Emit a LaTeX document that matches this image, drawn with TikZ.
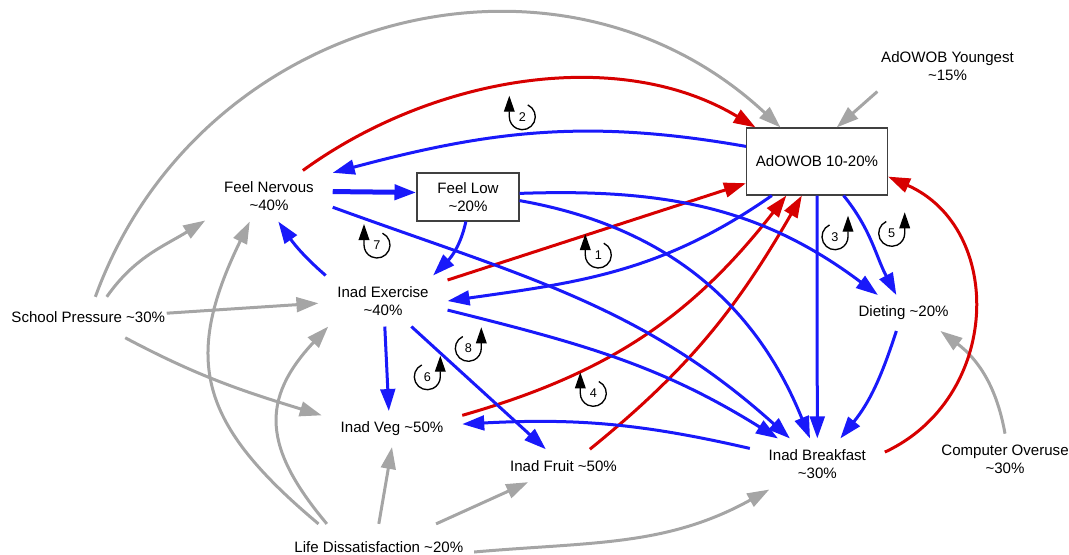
\documentclass[tikz,border=0pt]{standalone}
\usepackage{fontspec}
\setmainfont{Liberation Sans}
\usetikzlibrary{arrows.meta}

\definecolor{linkBlue}{RGB}{25,25,250}
\definecolor{linkRed}{RGB}{215,0,0}
\definecolor{linkGray}{RGB}{165,165,165}

\newcommand{\tld}{\textasciitilde}

\tikzset{
  var/.style={align=center, inner xsep=14pt, inner ysep=8pt},
  box/.style={draw=black!75, line width=0.8pt, inner sep=0pt, align=center},
  link/.style={line width=2.25pt, -{Triangle[length=16.5pt,width=11pt]}},
  blueLink/.style={link, draw=linkBlue},
  redLink/.style={link, draw=linkRed},
  grayLink/.style={link, draw=linkGray},
  loopNum/.style={font=\fontsize{9.5}{11}\selectfont, inner sep=0pt},
  loopLine/.style={line width=1pt, -{Triangle[length=12pt,width=8pt]}}
}

% loop markers: clockwise and counter-clockwise
\newcommand{\loopCW}[2]{
  \node[loopNum] (loop#2) at (#1) {#2};
  \draw[loopLine] ([shift={(65:13)}]loop#2.center) arc[start angle=65, end angle=-180, radius=13] -- ++(0,21);
}
\newcommand{\loopCCW}[2]{
  \node[loopNum] (loop#2) at (#1) {#2};
  \draw[loopLine] ([shift={(115:13)}]loop#2.center) arc[start angle=115, end angle=360, radius=13] -- ++(0,21);
}

\begin{document}
\begin{tikzpicture}[x=0.75pt, y=0.75pt, every node/.style={font=\fontsize{11.3}{13.6}\selectfont}]
  \useasboundingbox (0,0) rectangle (1069,-554);
  % Variables
  \node[var] (nerv) at (269,-196) {Feel Nervous\\\tld40\%};
  \node[box, minimum width=76.5pt, minimum height=36pt] (low) at (468,-197) {Feel Low\\\tld20\%};
  \node[box, minimum width=105.75pt, minimum height=50.25pt] (ado) at (817,-161.5) {AdOWOB 10-20\%};
  \node[var] (young) at (947.5,-66) {AdOWOB Youngest\\\tld15\%};
  \node[var] (exer) at (383,-301) {Inad Exercise\\\tld40\%};
  \node[var] (diet) at (903.6,-313) {Dieting \tld20\%};
  \node[var, inner xsep=1pt, inner ysep=11pt] (school) at (88.3,-317.3) {School Pressure \tld30\%};
  \node[var] (veg) at (392,-429) {Inad Veg \tld50\%};
  \node[var] (fruit) at (563.5,-465.7) {Inad Fruit \tld50\%};
  \node[var] (bkf) at (817.3,-464) {Inad Breakfast\\\tld30\%};
  \node[var] (comp) at (1005,-459) {Computer Overuse\\\tld30\%};
  \node[var, inner xsep=8pt, inner ysep=13pt] (life) at (378.8,-547) {Life Dissatisfaction \tld20\%};

  % Outside influences
  \draw[grayLink] (school.71) to[out=70, in=137, looseness=1.1] (ado.137);
  \draw[grayLink] (school.48) to[out=55, in=212] (nerv.201);
  \draw[grayLink] (school.3) -- (exer.182);
  \draw[grayLink] (school.-29) to[out=-28, in=163] (veg.169);
  \draw[grayLink] (young.200) -- (ado.60);
  \draw[grayLink] (life.159) to[out=140, in=244, looseness=1.28] (nerv.233);
  \draw[grayLink] (life.156) to[out=130, in=227, looseness=1.29] (exer.205);
  \draw[grayLink] (life.north) -- (veg.south);
  \draw[grayLink] (life.22) -- (fruit.205);
  \draw[grayLink] (life.-3) to[out=5, in=209] (bkf.208);
  \draw[grayLink] (comp.north) to[out=100, in=-37] (diet.-26);

  % Into AdOWOB
  \draw[redLink] (nerv.37) to[out=36, in=149, looseness=0.9] (ado.151);
  \draw[redLink] (exer.18) -- (ado.197);
  \draw[redLink] (veg.11) to[out=16, in=232] (ado.228);
  \draw[redLink] (fruit.32) to[out=39, in=240] (ado.246);
  \draw[redLink] (bkf.10) to[out=25, in=-24, looseness=1.19] (ado.-12);

  % Out of AdOWOB
  \draw[blueLink] (ado.168) to[out=170, in=15] (nerv.20);
  \draw[blueLink] (ado.217) to[out=215, in=8] (exer.east);
  \draw[blueLink] (ado.south) -- (bkf.north);
  \draw[blueLink] (ado.-52) to[out=-51, in=118] (diet.112);

  % Between behaviours
  \draw[blueLink, line width=3.75pt] (nerv.4) -- (low.175);
  \draw[blueLink] (nerv.-10) to[out=-20, in=138] (bkf.137);
  \draw[blueLink] (low.265) to[out=-102, in=45] (exer.27);
  \draw[blueLink] (low.4) to[out=2, in=143] (diet.145);
  \draw[blueLink] (low.-4) to[out=-10, in=112] (bkf.106);
  \draw[blueLink] (exer.156) to[out=139, in=-55] (nerv.290);
  \draw[blueLink] (exer.-8) to[out=-14, in=148] (bkf.147);
  \draw[blueLink] (exer.-86) -- (veg.100);
  \draw[blueLink] (exer.-42) -- (fruit.137);
  \draw[blueLink] (bkf.167) to[out=167, in=3] (veg.4);
  \draw[blueLink] (diet.248) to[out=-108, in=51] (bkf.48);

  % Loops
  \loopCW{522.3,-116.7}{2}
  \loopCW{377,-245}{7}
  \loopCW{598.3,-255}{1}
  \loopCW{593.3,-393.3}{4}
  \loopCCW{835,-236.7}{3}
  \loopCCW{891.7,-233.3}{5}
  \loopCCW{468.3,-348.3}{8}
  \loopCCW{427.3,-376.7}{6}
\end{tikzpicture}
\end{document}
